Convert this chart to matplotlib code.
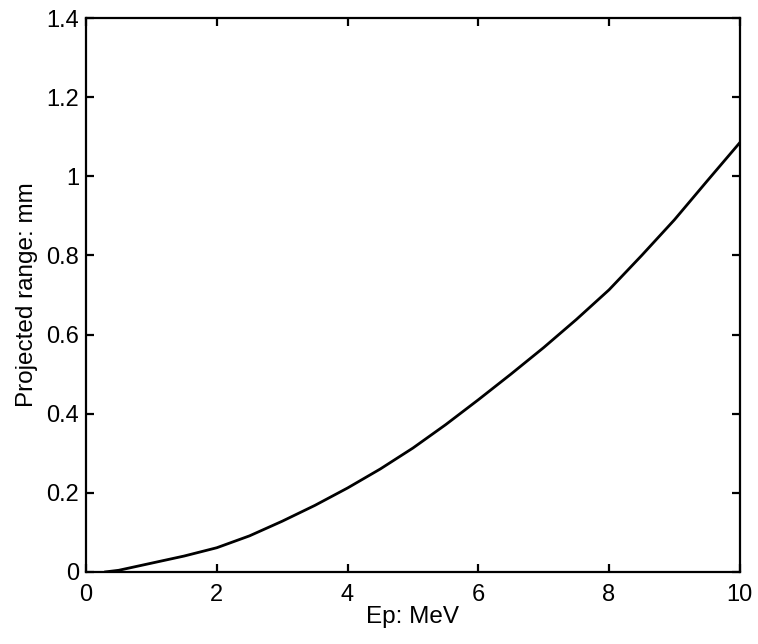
# Projected range of protons vs. energy

import numpy as np
from matplotlib import pyplot as plt

# data
energy = [0.3, 0.5, 1.0, 1.5, 2.0, 2.5, 3.0, 3.5, 4.0, 4.5, 5.0, 5.5,
          6.0, 6.5, 7.0, 7.5, 8.0, 8.5, 9.0, 9.5, 10.0]
prange = [0.0, 0.004, 0.022, 0.040, 0.061, 0.091, 0.128, 0.168, 0.212,
          0.260, 0.313, 0.372, 0.435, 0.500, 0.567, 0.638, 0.713, 0.800,
          0.890, 0.988, 1.085]
xticks = [0, 2, 4, 6, 8, 10]
yticks = [0, 0.2, 0.4, 0.6, 0.8, 1, 1.2, 1.4]
yticklabels = ['0', '0.2', '0.4', '0.6', '0.8', '1', '1.2', '1.4']

plt.rc('font', family=['Liberation Sans', 'DejaVu Sans'])
plt.rc('axes', linewidth=1.6)

fig = plt.figure(figsize=(7.58, 6.44), dpi=100)
ax1 = fig.add_axes([0.1135, 0.112, 0.8625, 0.860])

ax1.plot(energy, prange, color='black', linewidth=2.0)

ax1.set_xlim(0, 10)
ax1.set_ylim(0, 1.4)
ax1.set_xticks(xticks)
ax1.set_xticklabels([str(t) for t in xticks])
ax1.set_yticks(yticks)
ax1.set_yticklabels(yticklabels)
ax1.tick_params(direction='in', length=6, width=1.6, labelsize=17,
                top=True, right=True)
ax1.tick_params(axis='x', pad=9)
ax1.tick_params(axis='y', pad=5)

ax1.set_xlabel('Ep: MeV', fontsize=17.5, labelpad=0)
ax1.set_ylabel('Projected range: mm', fontsize=17.5, labelpad=6)

plt.savefig('out.png', dpi=100)
